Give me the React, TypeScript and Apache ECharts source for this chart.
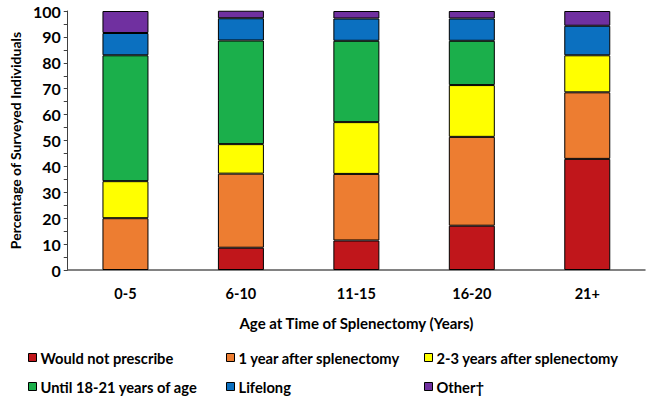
import React, { useEffect, useRef } from "react";
import * as echarts from "echarts";

const categories = ["0-5", "6-10", "11-15", "16-20", "21+"];
const seriesNames = [
  "Would not prescribe",
  "1 year after splenectomy",
  "2-3 years after splenectomy",
  "Until 18-21 years of age",
  "Lifelong",
  "Other\u2020",
];
const wouldNot = [0, 8.6, 11.4, 17.1, 42.9];
const oneYear = [20.0, 28.6, 25.7, 34.3, 25.7];
const twoThree = [14.3, 11.4, 20.0, 20.0, 14.3];
const until1821 = [48.6, 40.0, 31.4, 17.1, 0];
const lifelong = [8.6, 8.6, 8.6, 8.6, 11.4];
const other = [8.5, 2.9, 2.9, 2.9, 5.7];
const colors = ["#C0161B", "#ED7D31", "#FFFF00", "#1BAF4B", "#0B70C0", "#7030A0"];

const FONT = "Lato";

export default function App() {
  const ref = useRef<HTMLDivElement>(null);
  useEffect(() => {
    if (!ref.current) return;
    const chart = echarts.init(ref.current, undefined, { renderer: "svg" });
    const data = [wouldNot, oneYear, twoThree, until1821, lifelong, other];
    const legendPos = [
      { left: 28, top: 350 },
      { left: 226, top: 350 },
      { left: 424, top: 350 },
      { left: 28, top: 379 },
      { left: 226, top: 379 },
      { left: 424, top: 379 },
    ];
    chart.setOption({
      animation: false,
      textStyle: { fontFamily: FONT },
      grid: { left: 61, right: 5, top: 11, bottom: 131, containLabel: false },
      xAxis: {
        type: "category",
        data: categories,
        axisTick: { show: false },
        axisLine: { lineStyle: { color: "#595959", width: 1.5 } },
        axisLabel: { fontFamily: FONT, fontWeight: "bold", fontSize: 14.5, color: "#000", margin: 16 },
        name: "Age at Time of Splenectomy (Years)",
        nameLocation: "middle",
        nameGap: 45,
        nameTextStyle: { fontFamily: FONT, fontWeight: "bold", fontSize: 15, color: "#000" },
      },
      yAxis: {
        type: "value",
        min: 0,
        max: 100,
        interval: 10,
        axisLine: { show: true, lineStyle: { color: "#404040", width: 1 } },
        axisTick: { show: true, length: 4, lineStyle: { color: "#404040" } },
        minorTick: { show: true, splitNumber: 2, length: 4, lineStyle: { color: "#404040" } },
        splitLine: { show: false },
        axisLabel: { fontFamily: FONT, fontWeight: "bold", fontSize: 16, color: "#000", margin: 7 },
        name: "Percentage of Surveyed Individuals",
        nameLocation: "middle",
        nameGap: 45,
        nameTextStyle: { fontFamily: FONT, fontWeight: "bold", fontSize: 14, color: "#000" },
      },
      legend: seriesNames.map((n, i) => ({
        data: [n],
        left: legendPos[i].left,
        top: legendPos[i].top,
        itemWidth: 8,
        itemHeight: 8,
        itemGap: 4,
        padding: 0,
        icon: "rect",
        itemStyle: { borderColor: "#000", borderWidth: 1 },
        textStyle: { fontFamily: FONT, fontWeight: "bold", fontSize: 14.7, color: "#000", padding: [0, 0, 0, -1] },
      })),
      series: seriesNames.map((n, i) => ({
        name: n,
        type: "bar",
        stack: "total",
        barWidth: 46,
        data: data[i].map((v) => (v === 0 ? "-" : v)),
        itemStyle: { color: colors[i], borderColor: "#000", borderWidth: 1 },
      })),
    });
    return () => chart.dispose();
  }, []);
  return <div ref={ref} style={{ width: 650, height: 401, position: "absolute", left: 0, top: 0 }} />;
}
